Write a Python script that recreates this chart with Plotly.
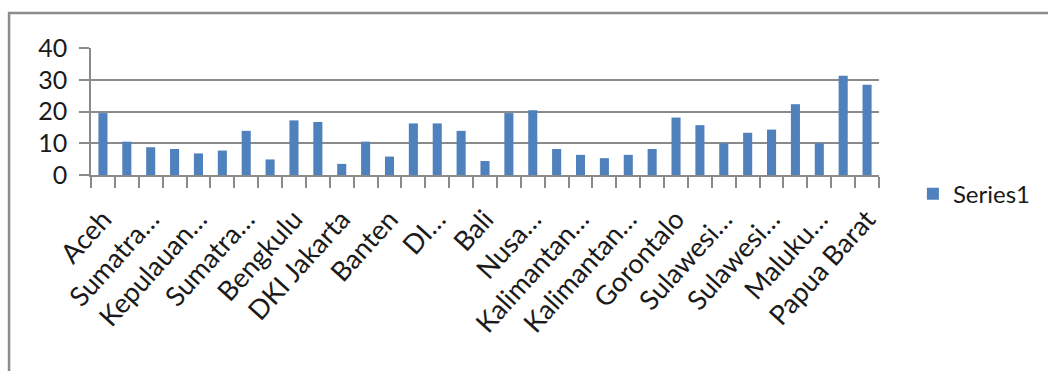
import plotly.graph_objects as go

provinces = [
    "Aceh", "Sumatera Utara", "Sumatera Barat", "Riau", "Kepulauan Riau", "Jambi",
    "Sumatera Selatan", "Kepulauan Bangka Belitung", "Bengkulu", "Lampung", "DKI Jakarta",
    "Jawa Barat", "Banten", "Jawa Tengah", "DI Yogyakarta", "Jawa Timur", "Bali",
    "Nusa Tenggara Barat", "Nusa Tenggara Timur", "Kalimantan Barat", "Kalimantan Tengah",
    "Kalimantan Selatan", "Kalimantan Timur", "Sulawesi Utara", "Gorontalo",
    "Sulawesi Tengah", "Sulawesi Selatan", "Sulawesi Barat", "Sulawesi Tenggara",
    "Maluku", "Maluku Utara", "Papua", "Papua Barat",
]
values = [
    19.5, 10.5, 8.75, 8.2, 6.8, 7.7, 13.9, 4.9, 17.2, 16.7, 3.5, 10.5, 5.8, 16.25,
    16.25, 13.9, 4.4, 19.5, 20.4, 8.2, 6.35, 5.3, 6.35, 8.2, 18.1, 15.7, 10.0, 13.3,
    14.3, 22.3, 10.0, 31.25, 28.4,
]
tick_labels = [
    "Aceh", "", "Sumatra…", "", "Kepulauan…", "", "Sumatra…", "", "Bengkulu", "",
    "DKI Jakarta", "", "Banten", "", "DI…", "", "Bali", "", "Nusa…", "", "Kalimantan…",
    "", "Kalimantan…", "", "Gorontalo", "", "Sulawesi…", "", "Sulawesi…", "",
    "Maluku…", "", "Papua Barat",
]
y_ticks = [0, 10, 20, 30, 40]
series_name = "Series1"

FONT = "Lato"
GRID = "#8a8a8a"

fig = go.Figure()
fig.add_trace(go.Bar(
    x=provinces, y=values, name=series_name,
    marker=dict(color="#4F81BD", line=dict(width=0)),
    showlegend=True,
))

fig.update_layout(
    width=1048, height=371,
    margin=dict(l=91, r=169, t=48, b=196, autoexpand=False),
    paper_bgcolor="white", plot_bgcolor="white",
    bargap=0.62,
    font=dict(family=FONT, color="#1a1a1a"),
    showlegend=True,
    legend=dict(
        x=1.043, y=-0.15, xanchor="left", yanchor="middle",
        font=dict(family=FONT, size=24, color="#1a1a1a"),
        itemwidth=30, bgcolor="rgba(0,0,0,0)",
    ),
    xaxis=dict(
        type="category", automargin=False,
        tickmode="array", tickvals=provinces, ticktext=tick_labels,
        tickangle=-48, tickson="boundaries",
        ticks="outside", ticklen=11, tickcolor=GRID, tickwidth=1.5,
        showline=True, linecolor=GRID, linewidth=1.5,
        showgrid=False, ticklabelstandoff=16,
        tickfont=dict(family=FONT, size=27, color="#1a1a1a"),
    ),
    yaxis=dict(
        range=[0, 40], tickmode="array", tickvals=y_ticks, automargin=False,
        ticks="outside", ticklen=10, tickcolor=GRID, tickwidth=1.5,
        showgrid=True, gridcolor=GRID, gridwidth=1.5,
        showline=True, linecolor=GRID, linewidth=1.5,
        zeroline=False, ticklabelstandoff=7,
        tickfont=dict(family=FONT, size=25, color="#1a1a1a"),
    ),
    shapes=[dict(
        type="rect", xref="paper", yref="paper",
        x0=-0.104, x1=1.4, y0=-1.8, y1=1.276,
        line=dict(color="#8c8c8c", width=2.5), fillcolor="rgba(0,0,0,0)",
        layer="below",
    )],
)

fig.write_html("out.html")
